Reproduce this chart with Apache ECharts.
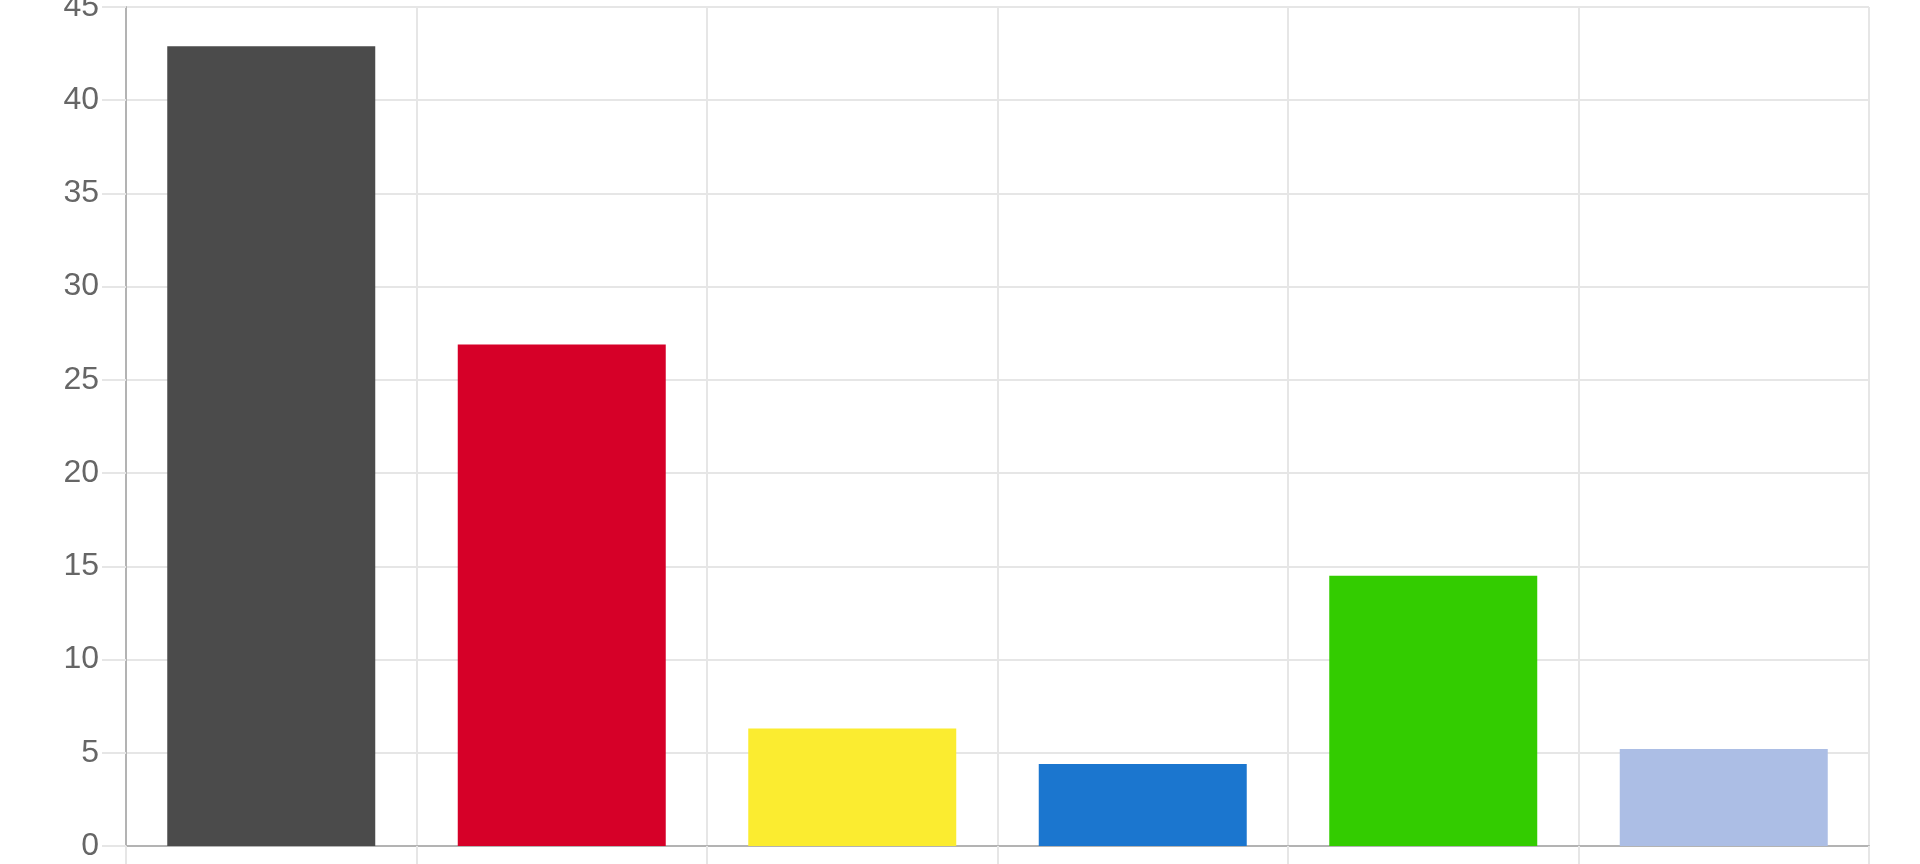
<!DOCTYPE html>
<html>
<head>
<meta charset="utf-8">
<script src="https://cdn.jsdelivr.net/npm/echarts@6/dist/echarts.min.js"></script>
<style>
html,body{margin:0;padding:0;background:#fff;}
#chart{width:1920px;height:864px;}
</style>
</head>
<body>
<div id="chart"></div>
<script>
const categories = ["CDU/CSU", "SPD", "FDP", "Linke", "Grüne", "Sonstige"];
const values = [42.9, 26.9, 6.3, 4.4, 14.5, 5.2];
const colors = ["#4b4b4b", "#d60028", "#fbec30", "#1b76cf", "#33cc00", "#acbee5"];
const yTicks = { min: 0, max: 45, interval: 5 };

const chart = echarts.init(document.getElementById('chart'));
chart.setOption({
  animation: false,
  backgroundColor: '#ffffff',
  grid: { left: 126, right: 51, top: 7, bottom: 18, containLabel: false, outerBoundsMode: 'none' },
  xAxis: {
    type: 'category',
    data: categories,
    boundaryGap: true,
    axisLine: { show: true, lineStyle: { color: '#b3b3b3', width: 2 } },
    axisTick: { show: true, alignWithLabel: false, length: 20, lineStyle: { color: '#e6e6e6', width: 2 } },
    axisLabel: { show: false },
    splitLine: { show: true, interval: 0, lineStyle: { color: '#e6e6e6', width: 2 } }
  },
  yAxis: {
    type: 'value',
    min: yTicks.min, max: yTicks.max, interval: yTicks.interval,
    axisLine: { show: true, lineStyle: { color: '#b3b3b3', width: 2 } },
    axisTick: { show: true, length: 24, lineStyle: { color: '#e6e6e6', width: 2 } },
    axisLabel: { color: '#666666', fontSize: 32, fontFamily: 'Liberation Sans, Arial, sans-serif', margin: 27 },
    splitLine: { show: true, lineStyle: { color: '#e6e6e6', width: 2 } }
  },
  series: [{
    type: 'bar',
    barCategoryGap: '28.4%',
    data: values.map((v, i) => ({ value: v, itemStyle: { color: colors[i] } })),
    itemStyle: { borderWidth: 0 }
  }]
});
</script>
</body>
</html>
